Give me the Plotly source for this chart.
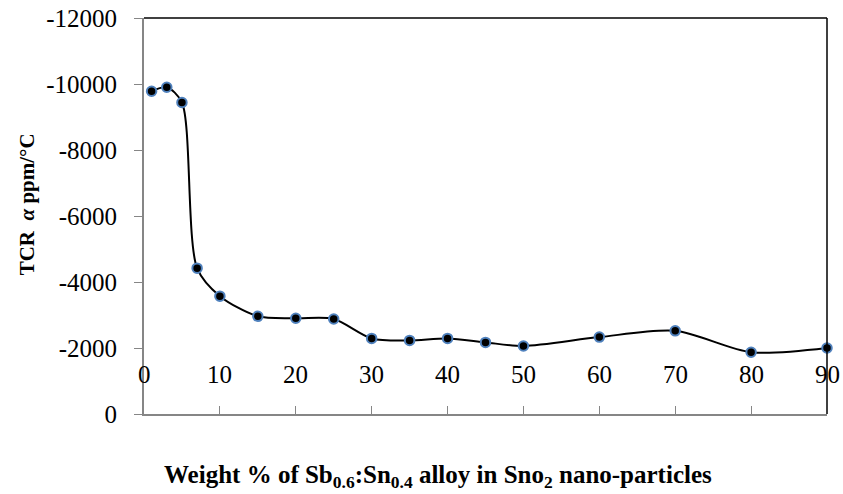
import plotly.graph_objects as go

# Weight % of alloy and measured temperature coefficient of resistance
weight_pct = [1, 3, 5, 7, 10, 15, 20, 25, 30, 35, 40, 45, 50, 60, 70, 80, 90]
tcr_ppm = [-9780, -9900, -9440, -4420, -3570, -2960, -2900, -2880,
           -2290, -2230, -2290, -2170, -2060, -2330, -2520, -1870, -2000]

x_ticks = [0, 10, 20, 30, 40, 50, 60, 70, 80, 90]
y_ticks = [0, -2000, -4000, -6000, -8000, -10000, -12000]

serif = "Liberation Serif, Times New Roman, serif"
axis_grey = "#868686"

fig = go.Figure()
fig.add_trace(go.Scatter(
    x=weight_pct, y=tcr_ppm, mode="lines+markers",
    line=dict(color="black", width=2, shape="spline", smoothing=0.8),
    marker=dict(color="black", size=9.5, line=dict(color="#4F81BD", width=2)),
    showlegend=False, cliponaxis=False,
))

# x tick labels sit inside the plot, above the bottom axis line
tick_labels = [
    dict(text=str(v), x=v, xref="x", y=0.1, yref="paper",
         xanchor="center", yanchor="middle", showarrow=False,
         font=dict(family=serif, size=25))
    for v in x_ticks
]

titles = [
    dict(text="<b>TCR  <i>α</i> ppm/°C</b>", textangle=-90,
         xref="paper", yref="paper", x=-0.171, y=0.53,
         xanchor="center", yanchor="middle", showarrow=False,
         font=dict(family=serif, size=21)),
    dict(text="<b>Weight % of Sb<sub>0.6</sub>:Sn<sub>0.4</sub> alloy in Sno<sub>2</sub> nano-particles</b>",
         xref="paper", yref="paper", x=0.43, y=-0.158, xanchor="center", yanchor="middle",
         showarrow=False, font=dict(family=serif, size=25)),
]

fig.update_layout(
    width=843, height=494,
    margin=dict(l=144, r=16, t=18, b=80, autoexpand=False),
    paper_bgcolor="white", plot_bgcolor="white",
    font=dict(family=serif, color="black", size=25),
    xaxis=dict(
        range=[0, 90], tickvals=x_ticks, showticklabels=False,
        showgrid=False, zeroline=False, automargin=False,
        showline=True, linecolor=axis_grey, linewidth=2,
        ticks="inside", ticklen=8, tickcolor=axis_grey, tickwidth=1,
    ),
    yaxis=dict(
        range=[0, -12000], tickvals=y_ticks, ticktext=[str(v) for v in y_ticks],
        showgrid=False, zeroline=False, automargin=False,
        showline=True, linecolor=axis_grey, linewidth=2,
        ticks="outside", ticklen=8, tickcolor=axis_grey, tickwidth=1,
        ticklabelstandoff=12,
        tickfont=dict(family=serif, size=25),
    ),
    shapes=[
        dict(type="line", xref="paper", yref="paper", x0=0, x1=1, y0=1, y1=1,
             line=dict(color="black", width=1.5)),
        dict(type="line", xref="paper", yref="paper", x0=1, x1=1, y0=0, y1=1,
             line=dict(color="black", width=1.5)),
    ],
    annotations=tick_labels + titles,
)

fig.write_html("out.html")
